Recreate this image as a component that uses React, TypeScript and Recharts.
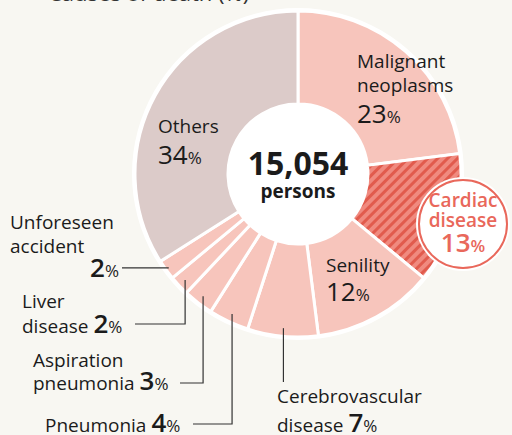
import { PieChart, Pie, Cell } from "recharts";

const causes = [
  "Malignant neoplasms",
  "Cardiac disease",
  "Senility",
  "Cerebrovascular disease",
  "Pneumonia",
  "Aspiration pneumonia",
  "Liver disease",
  "Unforeseen accident",
  "Others",
];
const shares = [23, 13, 12, 7, 4, 3, 2, 2, 34];
const totalLabel = "15,054";
const totalUnit = "persons";

const PINK = "#f7c5bc";
const OTHERS = "#dccbc9";
const RED = "#e9685b";
const BG = "#f8f7f2";
const FONT = "'Open Sans', 'Noto Sans', sans-serif";
const INK = "#1b1b1b";

const sliceFills = [PINK, "url(#cardiacStripes)", PINK, PINK, PINK, PINK, PINK, PINK, OTHERS];

const data = causes.map((name, i) => ({ name, value: shares[i] }));

type Row = { t: string; y: number; pct?: boolean; x?: number; anchor?: "start" | "end" };
type Layout = {
  x: number;
  rows: Row[];
  leader?: { r: number; elbowY?: number; endX?: number };
};

const layouts: Record<string, Layout> = {
  "Malignant neoplasms": {
    x: 357,
    rows: [
      { t: "Malignant", y: 68 },
      { t: "neoplasms", y: 92 },
      { t: "", y: 123, pct: true },
    ],
  },
  Others: {
    x: 158,
    rows: [
      { t: "Others", y: 133 },
      { t: "", y: 164, pct: true },
    ],
  },
  Senility: {
    x: 326,
    rows: [
      { t: "Senility", y: 272 },
      { t: "", y: 301, pct: true },
    ],
  },
  "Cerebrovascular disease": {
    x: 277,
    rows: [
      { t: "Cerebrovascular", y: 403 },
      { t: "disease ", y: 432, pct: true },
    ],
    leader: { r: 0.95, elbowY: 382 },
  },
  Pneumonia: {
    x: 45,
    rows: [{ t: "Pneumonia ", y: 432, pct: true }],
    leader: { r: 0.95, elbowY: 424, endX: 193 },
  },
  "Aspiration pneumonia": {
    x: 33,
    rows: [
      { t: "Aspiration", y: 367 },
      { t: "pneumonia ", y: 390, pct: true },
    ],
    leader: { r: 0.95, elbowY: 383, endX: 180 },
  },
  "Liver disease": {
    x: 22,
    rows: [
      { t: "Liver", y: 308 },
      { t: "disease ", y: 333, pct: true },
    ],
    leader: { r: 0.95, elbowY: 324, endX: 135 },
  },
  "Unforeseen accident": {
    x: 10,
    rows: [
      { t: "Unforeseen", y: 229 },
      { t: "accident", y: 253 },
      { t: "", y: 277, pct: true, x: 119, anchor: "end" },
    ],
    leader: { r: 0.98, endX: 122 },
  },
};

const RAD = Math.PI / 180;

const renderLabel = (props: any) => {
  const { cx, cy, midAngle, outerRadius, name, value } = props;

  if (name === "Cardiac disease") {
    const x = 463;
    const y = 224;
    return (
      <g key={name}>
        <circle cx={x} cy={y} r={47} fill="#fff" />
        <circle cx={x} cy={y} r={44} fill="#fff" stroke={RED} strokeWidth={2} />
        <text x={x} y={207} textAnchor="middle" fontFamily={FONT} fontSize={19} fontWeight={600} fill={RED}>
          Cardiac
        </text>
        <text x={x} y={227} textAnchor="middle" fontFamily={FONT} fontSize={19} fontWeight={600} fill={RED}>
          disease
        </text>
        <text x={x} y={252} textAnchor="middle" fontFamily={FONT} fill={RED}>
          <tspan fontSize={26} fontWeight={600}>{value}</tspan>
          <tspan fontSize={17} fontWeight={600}>%</tspan>
        </text>
      </g>
    );
  }

  const lay = layouts[name];
  if (!lay) return null;

  let leader = null;
  if (lay.leader) {
    const r = outerRadius * lay.leader.r;
    const px = cx + r * Math.cos(-midAngle * RAD);
    const py = cy + r * Math.sin(-midAngle * RAD);
    let d = `M${px},${py}`;
    if (lay.leader.elbowY != null) d += ` V${lay.leader.elbowY}`;
    if (lay.leader.endX != null) d += ` H${lay.leader.endX}`;
    leader = <path d={d} fill="none" stroke="#333" strokeWidth={1.2} />;
  }

  return (
    <g key={name}>
      {leader}
      {lay.rows.map((row, i) => (
        <text
          key={i}
          x={row.x ?? lay.x}
          y={row.y}
          textAnchor={row.anchor ?? "start"}
          fontFamily={FONT}
          fontSize={19}
          fill={INK}
        >
          {row.t && <tspan>{row.t}</tspan>}
          {row.pct && (
            <>
              <tspan fontSize={26} fontWeight={lay.leader ? 600 : 500}>{value}</tspan>
              <tspan fontSize={17}>%</tspan>
            </>
          )}
        </text>
      ))}
    </g>
  );
};

const renderCenter = (props: any) => {
  const { cx, cy } = props;
  return (
    <g key="center">
      <text x={cx} y={cy + 1} textAnchor="middle" fontFamily={FONT} fontSize={32} fontWeight={700} fill={INK}>
        {totalLabel}
      </text>
      <text x={cx} y={cy + 24} textAnchor="middle" fontFamily={FONT} fontSize={19} fontWeight={700} fill={INK}>
        {totalUnit}
      </text>
    </g>
  );
};

export default function App() {
  return (
    <div style={{ position: "absolute", left: 0, top: 0, width: 512, height: 435, background: BG, overflow: "hidden" }}>
      <PieChart width={512} height={435} margin={{ top: 0, right: 0, bottom: 0, left: 0 }}>
        <defs>
          <pattern
            id="cardiacStripes"
            width={7}
            height={7}
            patternUnits="userSpaceOnUse"
            patternTransform="rotate(45)"
          >
            <rect width={7} height={7} fill="#f08a7f" />
            <rect width={3} height={7} fill="#e15b4d" />
          </pattern>
        </defs>
        <text x={48} y={1} fontFamily={FONT} fontSize={22} fill="#333">
          Causes of death (%)
        </text>
        <Pie
          data={[{ name: "rim", value: 1 }]}
          dataKey="value"
          cx={298}
          cy={174}
          outerRadius={166}
          fill="#fff"
          stroke="none"
          isAnimationActive={false}
        />
        <Pie
          data={data}
          dataKey="value"
          nameKey="name"
          cx={298}
          cy={174}
          innerRadius={70}
          outerRadius={163}
          startAngle={90}
          endAngle={-270}
          label={renderLabel}
          labelLine={false}
          isAnimationActive={false}
        >
          {data.map((d, i) => (
            <Cell key={d.name} fill={sliceFills[i]} stroke="#fff" strokeWidth={3} />
          ))}
        </Pie>
        <Pie
          data={[{ name: "total", value: 1 }]}
          dataKey="value"
          cx={298}
          cy={174}
          outerRadius={70}
          fill="#fff"
          stroke="none"
          label={renderCenter}
          labelLine={false}
          isAnimationActive={false}
        />
      </PieChart>
    </div>
  );
}
